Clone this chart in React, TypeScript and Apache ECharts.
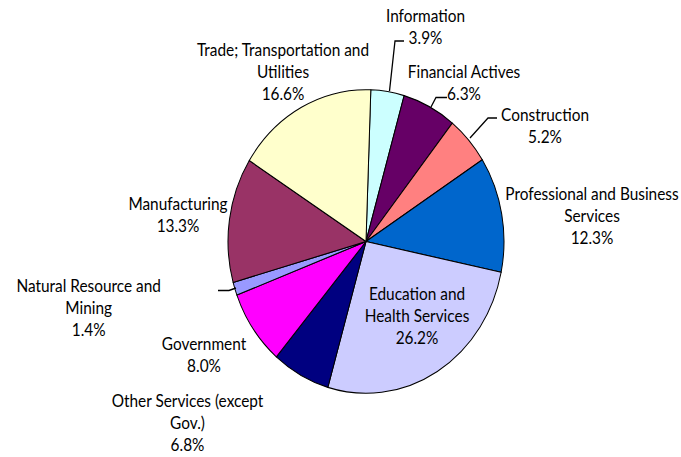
import React, { useEffect, useRef } from "react";
import * as echarts from "echarts";

// ---- data ----
const categories = [
  "Information",
  "Financial Actives",
  "Construction",
  "Professional and Business Services",
  "Education and Health Services",
  "Other Services (except Gov.)",
  "Government",
  "Natural Resource and Mining",
  "Manufacturing",
  "Trade; Transportation and Utilities",
];
const shares = [3.9, 6.3, 5.2, 12.3, 26.2, 6.8, 8.0, 1.4, 13.3, 16.6];
const colors = [
  "#CCFFFF",
  "#660066",
  "#FF8080",
  "#0066CC",
  "#CCCCFF",
  "#000080",
  "#FF00FF",
  "#9999FF",
  "#993366",
  "#FFFFCC",
];

// ---- layout (reference pixel coordinates) ----
const W = 681;
const H = 457;
const SY = 1.1; // vertical stretch of the original picture
const LH = 22; // line spacing in the picture
// text to break after (null = single line name), label anchor = centre x, first line centre y
const labelLayout = [
  { brk: null, x: 425.5, y: 15 },
  { brk: null, x: 464, y: 71 },
  { brk: null, x: 545, y: 114 },
  { brk: "Business ", x: 592, y: 193.5 },
  { brk: "and ", x: 417, y: 293.5 },
  { brk: "(except ", x: 187.5, y: 400.5 },
  { brk: null, x: 204, y: 343.5 },
  { brk: "and ", x: 88.7, y: 285 },
  { brk: null, x: 178, y: 203 },
  { brk: "and ", x: 283, y: 49.5 },
];
const leaders: { [k: number]: number[][] } = {
  0: [[389.5, 91], [395, 41], [404, 41]],
  1: [[431, 107], [436, 97.5], [447, 97.5]],
  2: [[470, 138], [488, 118], [497, 118]],
  7: [[236, 288], [229, 290.5], [218, 290.5]],
};

function labelText(i: number) {
  const name = categories[i];
  const b = labelLayout[i].brk;
  let lines: string[];
  if (b) {
    const k = name.indexOf(b) + b.length;
    lines = [name.slice(0, k).trim(), name.slice(k)];
  } else {
    lines = [name];
  }
  lines.push(shares[i].toFixed(1) + "%");
  return lines;
}

export default function App() {
  const ref = useRef<HTMLDivElement>(null);
  useEffect(() => {
    if (!ref.current) return;
    const chart = echarts.init(ref.current, undefined, { renderer: "svg" });
    const graphics: any[] = [];
    categories.forEach((_, i) => {
      const lines = labelText(i);
      const L = labelLayout[i];
      const cy = L.y + ((lines.length - 1) * LH) / 2;
      graphics.push({
        type: "text",
        x: L.x,
        y: cy / SY,
        z: 100,
        silent: true,
        style: {
          text: lines.join("\n"),
          fontFamily: "Lato",
          fontSize: 15.4,
          lineHeight: LH / SY,
          fill: "#000",
          align: "center",
          verticalAlign: "middle",
        },
      });
    });
    Object.keys(leaders).forEach((k) => {
      const pts = leaders[+k].map((p) => [p[0], p[1] / SY]);
      graphics.push({
        type: "polyline",
        z: 100,
        silent: true,
        shape: { points: pts },
        style: { stroke: "#000", lineWidth: 1.3, fill: null },
      });
    });
    chart.setOption({
      animation: false,
      backgroundColor: "#fff",
      series: [
        {
          type: "pie",
          center: [366, 241.5 / SY],
          radius: 138,
          startAngle: 88,
          clockwise: true,
          silent: true,
          label: { show: false },
          labelLine: { show: false },
          emphasis: { disabled: true },
          itemStyle: { borderColor: "#000", borderWidth: 1 },
          data: categories.map((name, i) => ({
            name,
            value: shares[i],
            itemStyle: { color: colors[i] },
          })),
        },
      ],
      graphic: graphics,
    });
    return () => chart.dispose();
  }, []);
  return (
    <div
      style={{
        position: "fixed",
        left: 0,
        top: 0,
        width: W,
        height: H,
        overflow: "hidden",
        background: "#fff",
      }}
    >
      <div
        ref={ref}
        style={{
          width: W,
          height: H / SY,
          transform: `scaleY(${SY})`,
          transformOrigin: "0 0",
        }}
      />
    </div>
  );
}
